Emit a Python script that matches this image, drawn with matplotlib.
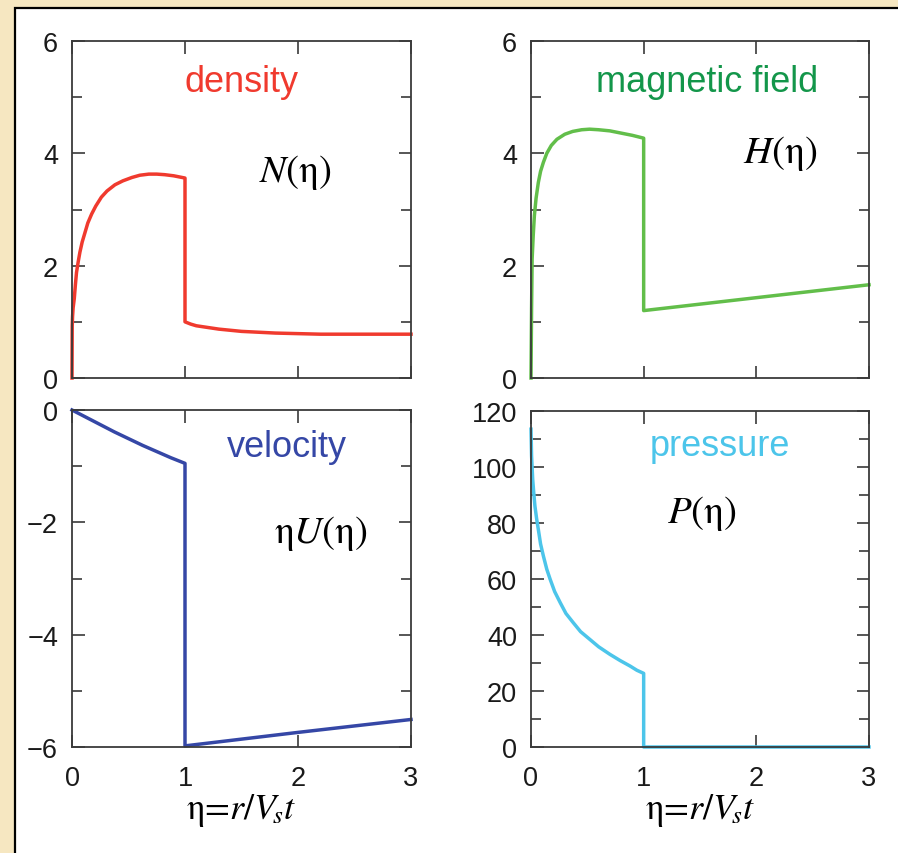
import matplotlib
matplotlib.use('Agg')
import matplotlib.pyplot as plt
from matplotlib.patches import Rectangle
from matplotlib.ticker import MultipleLocator

plt.rcParams['font.family'] = ['Liberation Sans', 'DejaVu Sans']
plt.rcParams['mathtext.fontset'] = 'stix'

# density N(eta)
eta_n = [0.0, 0.002, 0.005, 0.01, 0.02, 0.03, 0.04, 0.055, 0.07, 0.09, 0.115, 0.14, 0.174,
         0.21, 0.26, 0.31, 0.38, 0.45, 0.53, 0.6, 0.68, 0.75, 0.82, 0.9, 1.0,
         1.0, 1.05, 1.1, 1.2, 1.3, 1.4, 1.5, 1.65, 1.8, 2.0, 2.2, 2.5, 3.0]
dens = [0.0, 0.93, 1.1, 1.25, 1.41, 1.66, 1.88, 2.07, 2.24, 2.42, 2.59, 2.76, 2.92,
        3.06, 3.22, 3.33, 3.44, 3.51, 3.57, 3.61, 3.63, 3.63, 3.62, 3.60, 3.56,
        1.0, 0.96, 0.93, 0.90, 0.87, 0.85, 0.83, 0.815, 0.80, 0.79, 0.78, 0.78, 0.78]

# magnetic field H(eta)
eta_h = [0.0, 0.005, 0.01, 0.02, 0.03, 0.045, 0.065, 0.085, 0.11, 0.14, 0.18, 0.23, 0.30,
         0.37, 0.45, 0.52, 0.6, 0.7, 0.8, 0.9, 1.0,
         1.0, 2.0, 3.0]
field = [0.0, 1.23, 2.12, 2.55, 2.89, 3.2, 3.48, 3.68, 3.84, 4.0, 4.14, 4.25, 4.34,
         4.39, 4.42, 4.43, 4.42, 4.40, 4.36, 4.32, 4.27,
         1.2, 1.43, 1.66]

# velocity eta*U(eta)
eta_u = [0.0, 0.125, 0.25, 0.375, 0.5, 0.625, 0.75, 0.875, 1.0, 1.0, 2.0, 3.0]
veloc = [0.0, -0.13, -0.26, -0.39, -0.51, -0.63, -0.74, -0.85, -0.95, -5.98, -5.74, -5.51]

# pressure P(eta)
eta_p = [0.0, 0.005, 0.015, 0.025, 0.035, 0.05, 0.065, 0.085, 0.11, 0.14, 0.17, 0.21, 0.26,
         0.31, 0.375, 0.44, 0.52, 0.6, 0.70, 0.79, 0.88, 0.94, 1.0, 1.0, 3.0]
press = [113.5, 104.0, 95.6, 90.5, 86.0, 81.5, 77.7, 72.5, 68.2, 63.5, 59.9, 55.5, 51.5,
         47.7, 44.4, 41.2, 38.5, 35.8, 33.1, 30.9, 28.9, 27.4, 26.3, 0.0, 0.0]

W, H = 898, 854
fig = plt.figure(figsize=(W / 100, H / 100), dpi=100)
fig.patch.set_facecolor('#F6E7C1')
fig.patches.append(Rectangle((15 / W, -0.1), 2, 1 - 9 / H + 0.1, transform=fig.transFigure,
                             facecolor='white', edgecolor='black', lw=1.6, zorder=-1))

def panel(x0, y0, x1, y1):
    return fig.add_axes([x0 / W, 1 - y1 / H, (x1 - x0) / W, (y1 - y0) / H])

ax_n = panel(72, 42, 411, 379)
ax_h = panel(531, 42, 869, 379)
ax_u = panel(72, 411, 411, 748)
ax_p = panel(531, 412, 869, 748)

frame = '#3a3a3a'
for ax in [ax_n, ax_h, ax_u, ax_p]:
    ax.set_facecolor('none')
    ax.set_xlim(0, 3)
    ax.set_xticks([0, 1, 2, 3])
    for s in ax.spines.values():
        s.set_color(frame)
        s.set_linewidth(1.3)
    ax.tick_params(which='both', direction='in', top=True, right=True, color=frame, width=1.2)
    ax.tick_params(which='major', length=9)
    ax.tick_params(which='minor', length=7.5)
    ax.tick_params(axis='y', labelsize=19.5, pad=10, labelcolor='#1a1a1a')
    ax.tick_params(axis='x', labelsize=19.5, pad=13, labelcolor='#1a1a1a')

for ax in [ax_n, ax_h]:
    ax.set_ylim(0, 6)
    ax.set_yticks([0, 2, 4, 6])
    ax.yaxis.set_minor_locator(MultipleLocator(1))
    ax.tick_params(axis='x', labelbottom=False)

ax_u.set_ylim(-6, 0)
ax_u.set_yticks([-6, -4, -2, 0])
ax_u.yaxis.set_minor_locator(MultipleLocator(1))

ax_p.set_ylim(0, 120)
ax_p.set_yticks([0, 20, 40, 60, 80, 100, 120])
ax_p.yaxis.set_minor_locator(MultipleLocator(10))

lw = 2.5
ax_n.plot(eta_n, dens, color='#F03A2E', lw=lw, clip_on=False)
ax_h.plot(eta_h, field, color='#62BE4A', lw=lw, clip_on=False)
ax_u.plot(eta_u, veloc, color='#3547A6', lw=lw, clip_on=False)
ax_p.plot(eta_p, press, color='#4CC5EA', lw=lw, clip_on=False)

ax_n.text(0.5, 0.852, 'density', color='#F03A2E', fontsize=26, ha='center', transform=ax_n.transAxes)
ax_h.text(0.52, 0.852, 'magnetic field', color='#13964A', fontsize=26, ha='center', transform=ax_h.transAxes)
ax_u.text(0.633, 0.864, 'velocity', color='#3547A6', fontsize=26, ha='center', transform=ax_u.transAxes)
ax_p.text(0.56, 0.869, 'pressure', color='#4CC5EA', fontsize=26, ha='center', transform=ax_p.transAxes)

serif = 'STIXGeneral'
ax_n.text(0.66, 0.585, r'$N$(η)', fontsize=28, family=serif, ha='center', transform=ax_n.transAxes)
ax_h.text(0.737, 0.64, r'$H$(η)', fontsize=28, family=serif, ha='center', transform=ax_h.transAxes)
ax_u.text(0.734, 0.608, r'η$U$(η)', fontsize=28, family=serif, ha='center', transform=ax_u.transAxes)
ax_p.text(0.506, 0.67, r'$P$(η)', fontsize=28, family=serif, ha='center', transform=ax_p.transAxes)

for ax in [ax_u, ax_p]:
    ax.set_xlabel(r'η=$r/V_{\!s}t$', fontsize=26, family=serif, labelpad=0)

fig.savefig('out.png', dpi=100, facecolor=fig.get_facecolor())
